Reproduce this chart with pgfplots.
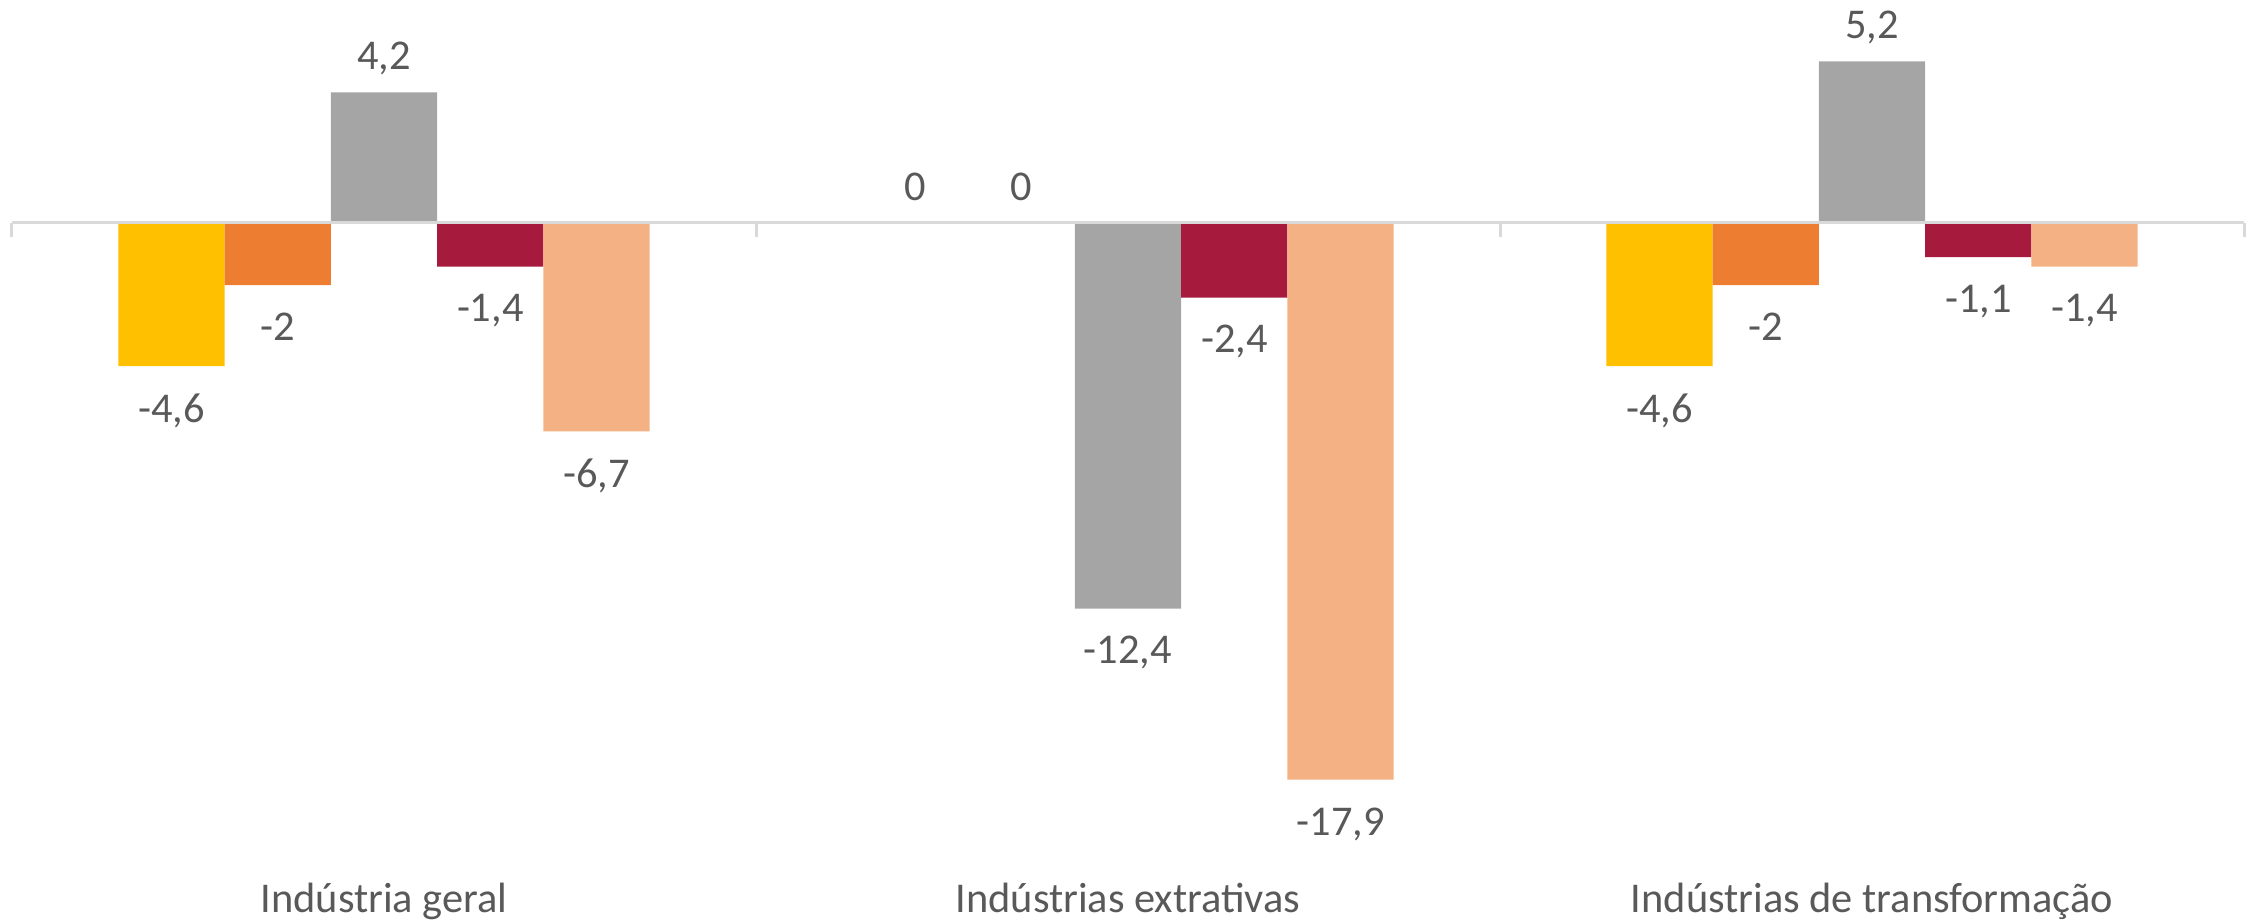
\documentclass[border=0pt]{standalone}
\usepackage{pgfplots}
\pgfplotsset{compat=1.18}
\usepackage{fontspec}
\setmainfont{Carlito}

\definecolor{cYel}{HTML}{FFC000}
\definecolor{cOra}{HTML}{ED7D31}
\definecolor{cGra}{HTML}{A5A5A5}
\definecolor{cRed}{HTML}{A61B3D}
\definecolor{cPea}{HTML}{F4B183}
\definecolor{cTxt}{HTML}{595959}
\definecolor{cAxis}{HTML}{D9D9D9}

\begin{document}
\begin{tikzpicture}
  \begin{axis}[
    width=558pt, height=230pt, scale only axis,
    xmin=-0.5, xmax=2.5,
    ymin=-22.41, ymax=7.17,
    ybar=0pt, bar width=0.142857,
    axis line style={draw=none},
    ytick=\empty,
    xtick={0,1,2},
    xticklabels={Indústria geral, Indústrias extrativas, Indústrias de transformação},
    major tick length=0pt,
    xticklabel style={anchor=base, yshift=2pt, font=\fontsize{10.6}{12}\selectfont, text=cTxt},
    clip=false,
    nodes near coords={\pgfmathprintnumber[assume math mode=true]{\pgfplotspointmeta}},
    visualization depends on={rawy \as \rawy},
    every node near coord/.append style={font=\fontsize{10.6}{12}\selectfont, text=cTxt,
      inner sep=0pt, text depth=0pt, yshift={(\rawy<0)*(-12.25pt)+5.5pt}},
    /pgf/number format/use comma,
    /pgf/number format/1000 sep={},
  ]
    \addplot[draw=none, fill=cYel] coordinates {(0,-4.6) (1,0) (2,-4.6)};
    \addplot[draw=none, fill=cOra] coordinates {(0,-2) (1,0) (2,-2)};
    \addplot[draw=none, fill=cGra] coordinates {(0,4.2) (1,-12.4) (2,5.2)};
    \addplot[draw=none, fill=cRed] coordinates {(0,-1.4) (1,-2.4) (2,-1.1)};
    \addplot[draw=none, fill=cPea] coordinates {(0,-6.7) (1,-17.9) (2,-1.4)};
    % zero line and group separators
    \draw[cAxis, line width=0.75pt] (axis cs:-0.5,0) -- (axis cs:2.5,0);
    \draw[cAxis, line width=0.75pt] (axis cs:-0.5,0) -- ([yshift=-3.5pt]axis cs:-0.5,0);
    \draw[cAxis, line width=0.75pt] (axis cs:0.5,0) -- ([yshift=-3.5pt]axis cs:0.5,0);
    \draw[cAxis, line width=0.75pt] (axis cs:1.5,0) -- ([yshift=-3.5pt]axis cs:1.5,0);
    \draw[cAxis, line width=0.75pt] (axis cs:2.5,0) -- ([yshift=-3.5pt]axis cs:2.5,0);
    \coordinate (tl) at (rel axis cs:0,1);
    \coordinate (br) at (rel axis cs:1,0);
  \end{axis}
  \pgfresetboundingbox
  \path ([xshift=-3pt]tl) rectangle ([xshift=2.5pt]br);
\end{tikzpicture}
\end{document}
